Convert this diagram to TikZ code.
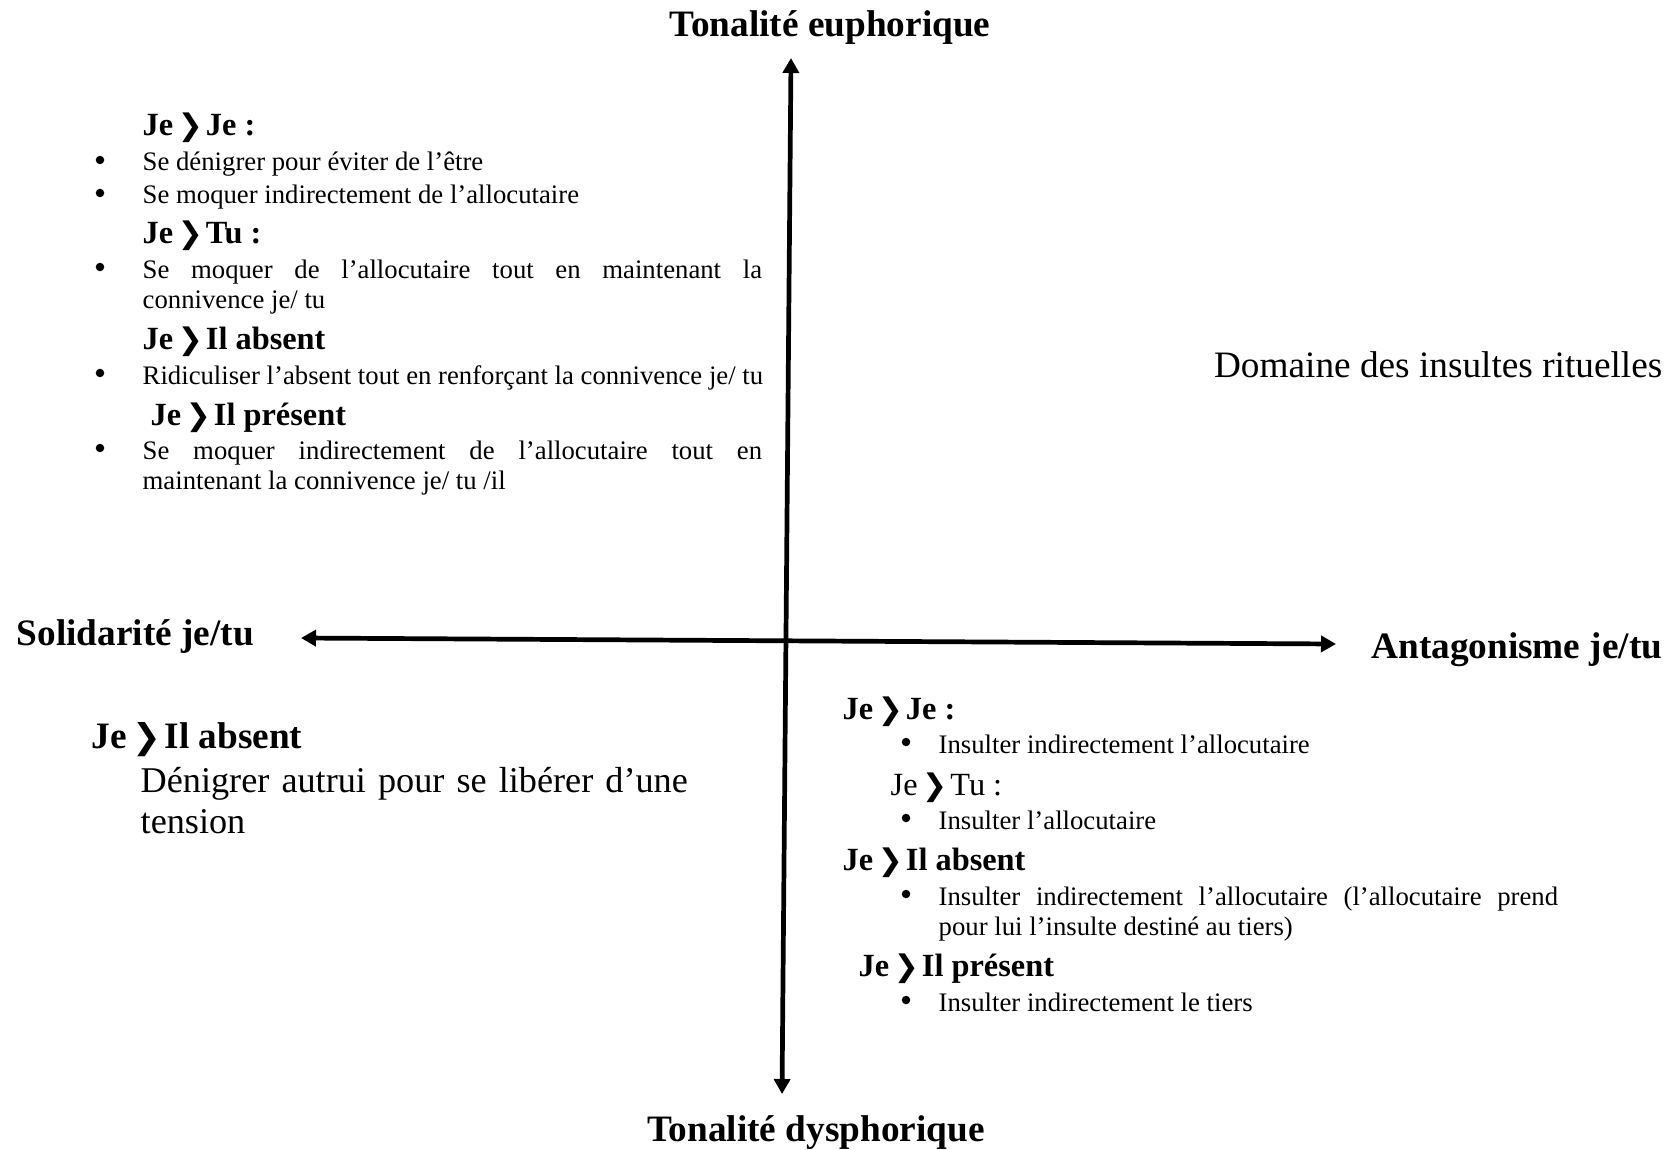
\documentclass[tikz,border=0pt]{standalone}
\usepackage{fontspec}
\setmainfont{Liberation Serif}
\newfontfamily\chevfont[Scale=0.92]{DejaVu Sans}
\usetikzlibrary{arrows.meta}
\newcommand{\chev}{\hspace{0.14em}{\chevfont\char"276F}\hspace{0.1em}}

\begin{document}
\begin{tikzpicture}[
    x=0.01cm, y=-0.01cm,
    axis/.style={{Triangle[length=0.15cm,width=0.16cm]}-{Triangle[length=0.15cm,width=0.16cm]}, line width=1.34pt},
    title/.style={font=\bfseries\fontsize{10.6}{11.9}\selectfont, inner sep=0pt},
    bigtext/.style={font=\fontsize{10.6}{11.9}\selectfont, inner sep=0pt},
    head/.style={anchor=base west, font=\bfseries\fontsize{9.2}{11}\selectfont, inner sep=0pt},
    subhead/.style={anchor=base west, font=\fontsize{9.2}{11}\selectfont, inner sep=0pt},
    item/.style={anchor=base west, font=\fontsize{7.6}{8.8}\selectfont, inner sep=0pt},
    para/.style={item, text width=6.19cm, align=justify},
    dot/.style={circle, fill, inner sep=0pt, minimum size=0.085cm}
  ]
  \useasboundingbox (0,0) rectangle (1677,1149);

  % axes
  \coordinate (up) at (791,58);
  \coordinate (down) at (782,1094);
  \coordinate (left) at (301,638);
  \coordinate (right) at (1336,644);
  \draw[axis] (down) -- (up);
  \draw[axis] (left) -- (right);

  % poles
  \node[title, anchor=base] (eupho) at (830,37) {Tonalité euphorique};
  \node[title, anchor=base] (dyspho) at (816,1141) {Tonalité dysphorique};
  \node[title, anchor=base west] (solid) at (16,645) {Solidarité je/tu};
  \node[title, anchor=base east] (antag) at (1663,658) {Antagonisme je/tu};
  \node[bigtext, anchor=base east] (rituel) at (1663,377) {Domaine des insultes rituelles};

  % top left quarter
  \node[head] (tlh1) at (142,136) {Je\chev Je :};
  \node[dot] (tld1) at (100,160) {};
  \node[item] (tli1) at (142,171) {Se dénigrer pour éviter de l’être};
  \node[dot] (tld2) at (100,193) {};
  \node[item] (tli2) at (142,204) {Se moquer indirectement de l’allocutaire};

  \node[head] (tlh2) at (142,244) {Je\chev Tu :};
  \node[dot] (tld3) at (100,267) {};
  \node[para] (tli3) at (142,278) {Se moquer de l’allocutaire tout en maintenant la\linebreak connivence je/ tu};

  \node[head] (tlh3) at (142,350) {Je\chev Il absent};
  \node[dot] (tld4) at (100,373) {};
  \node[item] (tli4) at (142,384) {Ridiculiser l’absent tout en renforçant la connivence je/ tu};

  \node[head] (tlh4) at (150,425) {Je\chev Il présent};
  \node[dot] (tld5) at (100,448) {};
  \node[para] (tli5) at (142,459) {Se moquer indirectement de l’allocutaire tout en\linebreak maintenant la connivence je/ tu /il};

  % bottom left quarter
  \node[title, anchor=base west] (blh) at (91,748) {Je\chev Il absent};
  \node[bigtext, font=\fontsize{10.3}{11.9}\selectfont, anchor=base west, text width=6cm, align=left] (blt) at (140,792) {Dénigrer autrui pour se libérer d’une\\tension};

  % bottom right quarter
  \node[head] (brh1) at (842,719) {Je\chev Je :};
  \node[dot] (brd1) at (906,742) {};
  \node[item] (bri1) at (938,753) {Insulter indirectement l’allocutaire};

  \node[subhead] (brh2) at (890,795) {Je\chev Tu :};
  \node[dot] (brd2) at (906,818) {};
  \node[item] (bri2) at (938,829) {Insulter l’allocutaire};

  \node[head] (brh3) at (842,870) {Je\chev Il absent};
  \node[dot] (brd3) at (906,894) {};
  \node[para] (bri3) at (938,905) {Insulter indirectement l’allocutaire (l’allocutaire prend\linebreak pour lui l’insulte destiné au tiers)};

  \node[head] (brh4) at (858,976) {Je\chev Il présent};
  \node[dot] (brd4) at (906,1000) {};
  \node[item] (bri4) at (938,1011) {Insulter indirectement le tiers};
\end{tikzpicture}
\end{document}
